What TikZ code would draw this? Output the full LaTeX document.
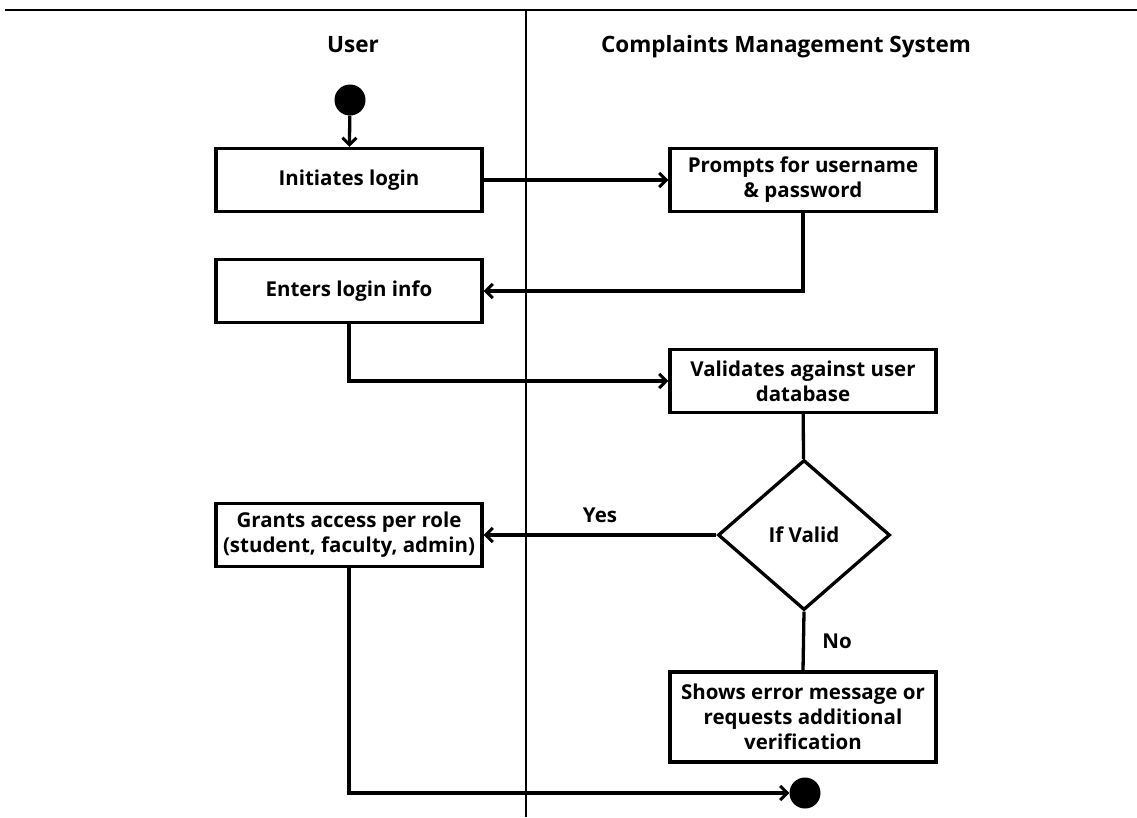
\documentclass[tikz,border=0pt]{standalone}
\usepackage{fontspec}
\setmainfont{Open Sans}
\usetikzlibrary{arrows.meta,shapes.geometric}
\begin{document}
\begin{tikzpicture}[x=1pt,y=-1pt,
  lane/.style={line width=2.2pt},
  head/.style={font=\fontsize{22.5}{27}\selectfont\bfseries},
  act/.style={draw, line width=3.3pt, minimum width=266pt, minimum height=63pt,
    align=center, inner sep=0pt, font=\fontsize{20.5}{25}\selectfont\bfseries},
  decision/.style={draw, diamond, line width=3.3pt, minimum width=172pt, minimum height=150pt,
    inner sep=0pt, font=\fontsize{20.5}{25}\selectfont\bfseries},
  dot/.style={circle, fill=black, minimum size=31pt, inner sep=0pt},
  conn/.style={line width=3.3pt},
  flow/.style={conn, -{Straight Barb[length=7pt,width=14pt,line width=3pt]}},
  lbl/.style={font=\fontsize{20.5}{25}\selectfont\bfseries}]
\useasboundingbox (0,0) rectangle (1137,817);

% swimlane borders
\draw[lane] (5,10) -- (1137,10);
\draw[lane] (526,10) -- (526,817);

% lane headings
\node[head] (userhead) at (353,45) {User};
\node[head] (syshead) at (786,47) {Complaints Management System};

% activities
\node[dot] (start) at (350,100) {};
\node[act] (init) at (349,180) {Initiates login};
\node[act] (prompt) at (803,180) {Prompts for username\\ \& password};
\node[act] (enter) at (349,291) {Enters login info};
\node[act] (valid) at (803,381) {Validates against user\\ database};
\node[decision] (dec) at (804,535) {If Valid};
\node[act] (grant) at (349,535) {Grants access per role\\ (student, faculty, admin)};
\node[act, minimum height=90pt] (shows) at (803,717) {Shows error message or\\ requests additional\\ verification};
\node[dot] (end) at (805,793) {};

% control flow
\draw[flow] (start) -- (init);
\draw[flow] (init) -- (prompt);
\draw[flow] (prompt.south) |- (enter.east);
\draw[flow] (enter.south) |- (valid.west);
\draw[conn] (valid) -- (dec);
\draw[flow] (dec.west) -- node[lbl, above=7pt] {Yes} (grant.east);
\draw[conn] (dec.south) -- node[lbl, right=14pt] {No} (shows.north);
\draw[flow] (grant.south) |- (end.west);
\end{tikzpicture}
\end{document}
